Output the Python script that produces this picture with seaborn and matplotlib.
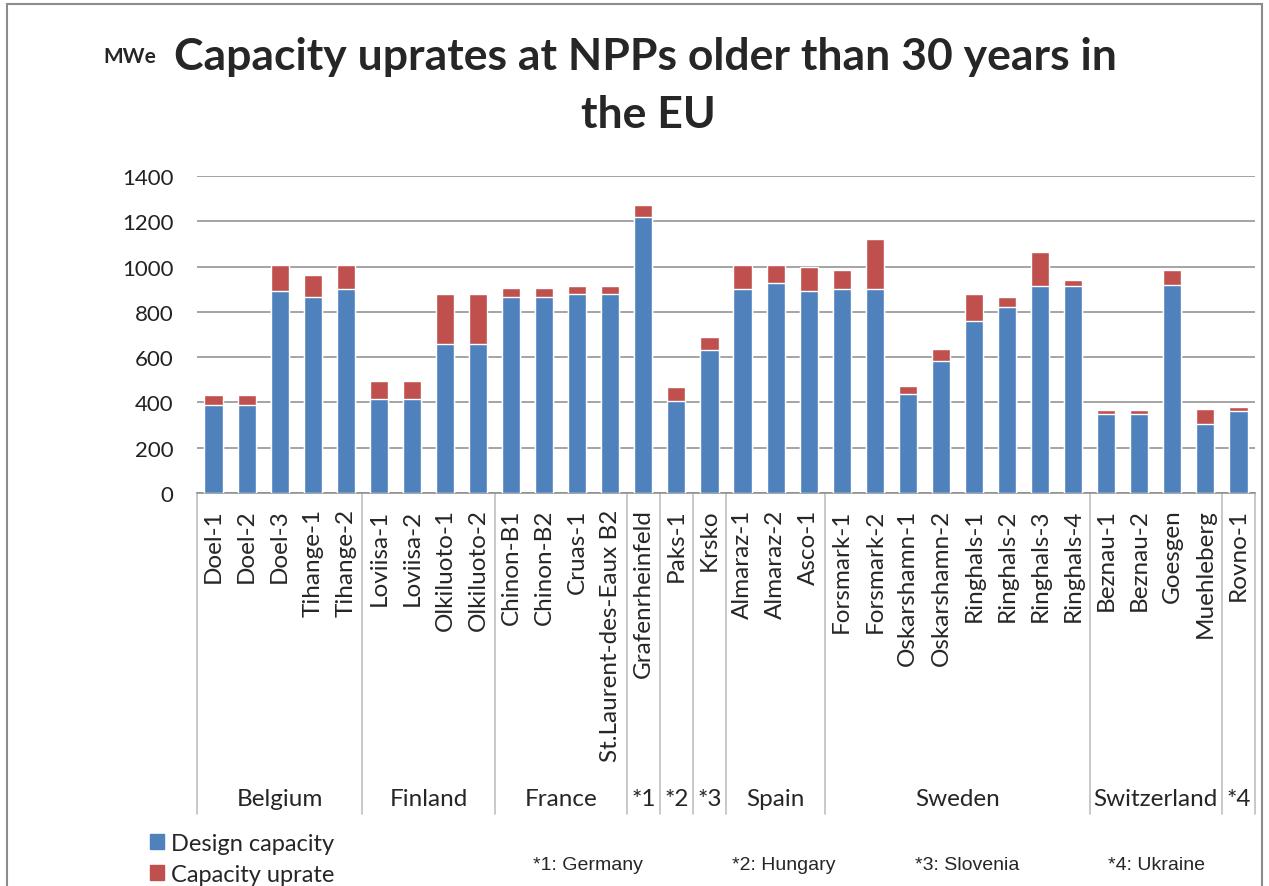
import matplotlib
matplotlib.use("Agg")
import matplotlib.pyplot as plt
import seaborn as sns
import pandas as pd
from matplotlib.patches import Rectangle

plants = ["Doel-1", "Doel-2", "Doel-3", "Tihange-1", "Tihange-2",
          "Loviisa-1", "Loviisa-2", "Olkiluoto-1", "Olkiluoto-2",
          "Chinon-B1", "Chinon-B2", "Cruas-1", "St.Laurent-des-Eaux B2",
          "Grafenrheinfeld", "Paks-1", "Krsko",
          "Almaraz-1", "Almaraz-2", "Asco-1",
          "Forsmark-1", "Forsmark-2", "Oskarshamn-1", "Oskarshamn-2",
          "Ringhals-1", "Ringhals-2", "Ringhals-3", "Ringhals-4",
          "Beznau-1", "Beznau-2", "Goesgen", "Muehleberg", "Rovno-1"]
design = [390, 390, 890, 867, 902,
          417, 417, 659, 659,
          867, 867, 879, 879,
          1220, 406, 631,
          902, 928, 890,
          902, 902, 439, 581,
          760, 823, 912, 912,
          350, 350, 918, 305, 360]
uprate = [43, 43, 118, 95, 105,
          79, 79, 218, 218,
          39, 39, 33, 33,
          51, 61, 56,
          105, 79, 107,
          84, 218, 34, 56,
          117, 44, 151, 28,
          16, 16, 68, 67, 22]
groups = ["Belgium", "Finland", "France", "*1", "*2", "*3", "Spain", "Sweden", "Switzerland", "*4"]
group_sizes = [5, 4, 4, 1, 1, 1, 3, 8, 4, 1]
footnotes = ["*1: Germany", "*2: Hungary", "*3: Slovenia", "*4: Ukraine"]
yticks = [0, 200, 400, 600, 800, 1000, 1200, 1400]

BLUE = "#4F81BD"
RED = "#C0504D"

sns.set_style("white")
plt.rcParams['font.family'] = ['Lato', 'DejaVu Sans']

df = pd.DataFrame({"plant": plants, "design": design, "uprate": uprate})
df["total"] = df["design"] + df["uprate"]

W, H = 1269, 887
fig = plt.figure(figsize=(W / 100, H / 100), dpi=100)
ax = fig.add_axes([197 / W, 1 - 494 / H, (1255 - 197) / W, 317 / H])

sns.barplot(data=df, x="plant", y="total", color=RED, width=0.55, ax=ax,
            saturation=1, zorder=3)
sns.barplot(data=df, x="plant", y="design", color=BLUE, width=0.55, ax=ax,
            saturation=1, zorder=4)

ax.set_xlim(-0.5, len(plants) - 0.5)
ax.set_ylim(0, 1400)
ax.set_yticks(yticks)
ax.set_yticklabels([str(v) for v in yticks], fontsize=16)
ax.yaxis.grid(True, color="#8c8c8c", linewidth=1.1, zorder=0)
ax.set_axisbelow(True)
for s in ["top", "right", "left"]:
    ax.spines[s].set_visible(False)
ax.spines["bottom"].set_color("#8c8c8c")
ax.spines["bottom"].set_linewidth(1.1)
ax.set_xlabel("")
ax.set_ylabel("")
ax.tick_params(axis="y", length=0, pad=17, colors="#222222")
ax.tick_params(axis="x", length=0, pad=11)
ax.set_xticks(range(len(plants)))
ax.set_xticklabels(plants, rotation=90, fontsize=17.5, va="top", ha="center")

# group separators and labels
tr = ax.get_xaxis_transform()
sep_bottom = -(815 - 494) / 317
label_y = -(800 - 494) / 317
pos = -0.5
ax.plot([pos, pos], [0, sep_bottom], transform=tr, color="#bfbfbf", lw=1.2, clip_on=False)
for g, n in zip(groups, group_sizes):
    start = pos
    pos += n
    ax.plot([pos, pos], [0, sep_bottom], transform=tr, color="#bfbfbf", lw=1.2, clip_on=False)
    ax.text((start + pos) / 2, label_y, g, transform=tr, ha="center", va="center",
            fontsize=17.5, clip_on=False)

# title
fig.text(645 / W, 1 - 57 / H, "Capacity uprates at NPPs older than 30 years in",
         ha="center", va="center", fontsize=32, fontweight="bold")
fig.text(648 / W, 1 - 115 / H, "the EU", ha="center", va="center",
         fontsize=32, fontweight="bold")
fig.text(130 / W, 1 - 57 / H, "MWe", ha="center", va="center", fontsize=15,
         fontweight="bold")

# legend
handles = [Rectangle((0, 0), 1, 1, color=BLUE), Rectangle((0, 0), 1, 1, color=RED)]
fig.legend(handles, ["Design capacity", "Capacity uprate"], loc="upper left",
           bbox_to_anchor=(150 / W, 1 - 834 / H), frameon=False, fontsize=17,
           handlelength=0.6, handleheight=0.6, handletextpad=0.3, labelspacing=0.42,
           borderaxespad=0, borderpad=0)

# footnotes
for txt, xc in zip(footnotes, [588, 784, 967, 1157]):
    fig.text(xc / W, 1 - 866 / H, txt, ha="center", va="center", fontsize=14,
             family=["Liberation Sans", "DejaVu Sans"])

# frame
fig.patches.append(Rectangle((7 / W, -0.05), (1262 - 7) / W, 1 - 5 / H + 0.05,
                             transform=fig.transFigure, fill=False,
                             edgecolor="#8c8c8c", linewidth=1.5))

fig.savefig("out.png", dpi=100)
